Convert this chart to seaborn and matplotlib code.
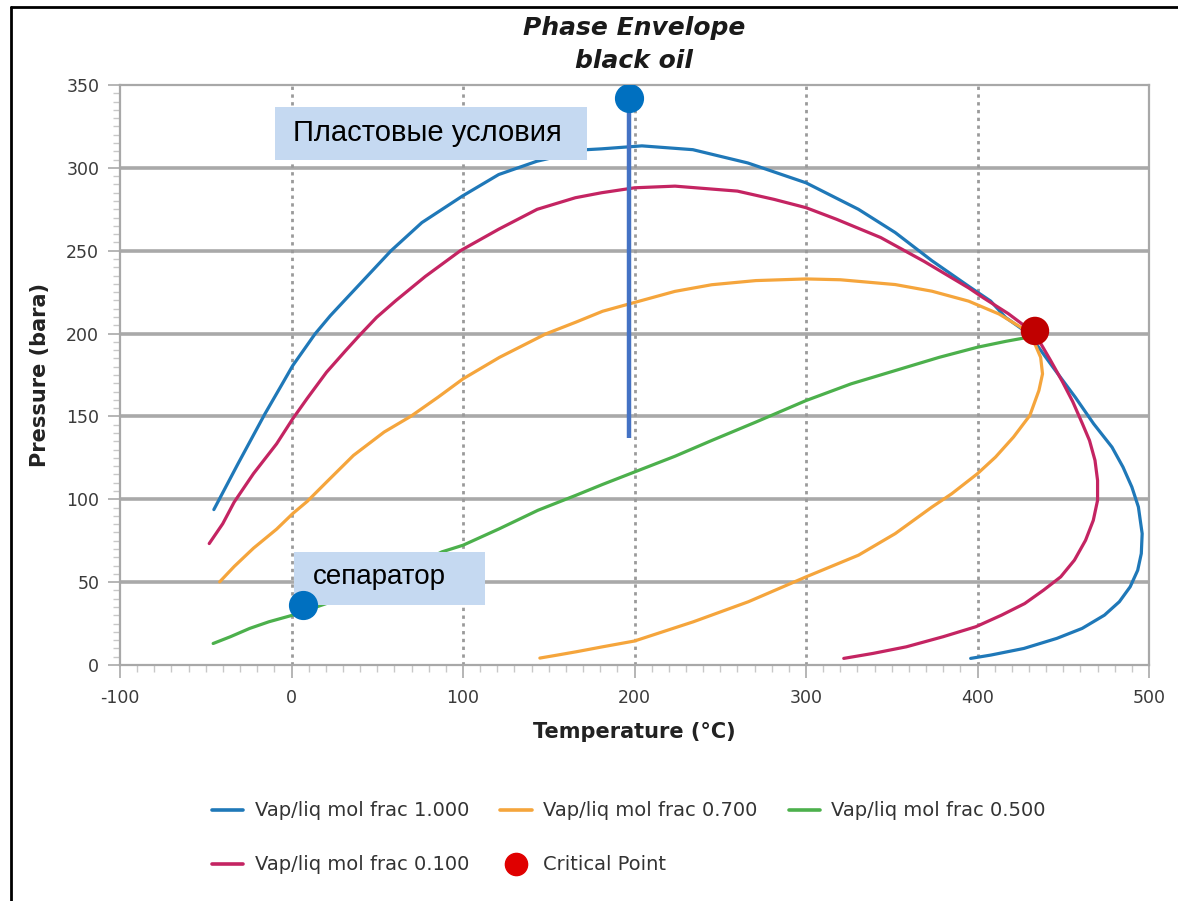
import matplotlib
matplotlib.use("Agg")
import numpy as np
import pandas as pd
import matplotlib.pyplot as plt
from matplotlib.lines import Line2D
from matplotlib.patches import Rectangle
from matplotlib.ticker import MultipleLocator
import seaborn as sns

# --- phase envelope data (temperature °C, pressure bara) ---
t_100 = [-45.3, -31.2, -15.5, -5.4, 0.7, 13.7, 22.6, 31.6, 58, 76, 99.6, 120.8, 143, 172,
         180.7, 204.3, 234, 266, 300, 330.6, 352, 373.4, 394.8, 407.7, 416.3, 430,
         444, 457, 467.7, 478.4, 484.8, 490, 493.8, 496, 495.5, 493.4, 489, 482.7,
         474, 461, 446.3, 427, 407.7, 396]
p_100 = [93.8, 121.5, 151.6, 169.7, 180.7, 199.8, 210.8, 220.8, 250, 267, 283, 296, 304, 311,
         311.5, 313.3, 311, 303, 291, 275, 261, 244, 228.6, 219.6, 209.8, 199.8,
         179.7, 161.6, 145.6, 131.5, 119.5, 107.4, 95.4, 79.3, 67.3, 57.2, 47.2, 38.2,
         30.1, 22.1, 16.1, 10, 6, 4]

t_070 = [-41.9, -33.4, -22.2, -8.7, 0.7, 9.2, 20.4, 36.1, 54, 69.7, 85.4, 100, 121.3,
         148.2, 166, 181.4, 200, 223.6, 245, 270.7, 300, 320, 352, 373.4, 394.8,
         412.6, 425.3, 432.6, 436.8, 437.9, 435.8, 430.5, 421, 410.5, 400, 385, 373.5,
         352, 330.6, 300, 266.4, 234.3, 200, 181.4, 166, 155, 144.8]
p_070 = [50.2, 59.5, 70.5, 82, 91.4, 98.8, 110.4, 126.5, 140.6, 150.2, 161.6, 172.7, 185.7,
         199.8, 207, 213.5, 218.8, 225.5, 229.5, 232, 233, 232.5, 229.6, 225.6, 219.6,
         211.8, 203.8, 195.8, 185.7, 175.7, 165.7, 150.6, 137.6, 125.5, 115.5, 103.4, 95.4,
         79.3, 66.3, 53.2, 38.2, 26.1, 14.5, 11, 8, 6, 4.2]

t_050 = [-45.7, -35.6, -24.4, -13.2, 0.7, 20, 45, 70, 87.7, 100, 121.3, 143.7, 166, 181.4,
         200, 223.6, 245, 270.7, 300, 326.3, 352, 377.7, 400, 416.8, 427.4]
p_050 = [13, 17.1, 22.1, 26.1, 30.1, 37, 48, 59, 68.3, 72.3, 82.3, 93.4, 102.5, 109,
         116.5, 126, 135.5, 146.6, 159.6, 169.7, 177.7, 185.7, 191.8, 195.4, 197.4]

t_010 = [-48, -40.1, -33.4, -22.2, -8.7, 0.7, 9.2, 20.4, 31.6, 39.5, 49.6, 60.8, 78, 98.4,
         120.8, 143.2, 165.5, 180.7, 200, 223.6, 260, 281.4, 300, 317.8, 343.5, 369,
         394.8, 403.4, 418, 433.5, 442.5, 449.5, 455.5, 461, 465.3, 468.5, 470, 470, 467.5,
         463, 456.5, 448.5, 438.5, 427.5, 414, 399, 380, 358.5, 339, 322]
p_010 = [73.3, 85.3, 98.4, 115.5, 133.5, 148.6, 161, 176.7, 189.8, 198.8, 209.8, 219.9,
         234.5, 250, 263, 275, 282, 285, 288, 289, 286, 281, 276, 269, 258, 243.5,
         227.6, 221.6, 212, 200, 184, 171, 159, 146, 135.5, 123.5, 111.4, 99.4, 87.3,
         75.3, 63.3, 53.2, 45.2, 37.1, 30.1, 23.1, 17.1, 11, 7, 4]

series_names = ["Vap/liq mol frac 1.000", "Vap/liq mol frac 0.700",
                "Vap/liq mol frac 0.500", "Vap/liq mol frac 0.100"]
series_colors = ["#1f78b8", "#f5a53c", "#4cb04c", "#c42462"]

critical_t = [433.5]
critical_p = [201.6]

# reservoir conditions marker and pressure range, separator marker
reservoir_t = 196.5
reservoir_p_top = 342
reservoir_p_bottom = 137
separator_t = 6.5
separator_p = 36

x_ticks = [-100, 0, 100, 200, 300, 400, 500]
y_ticks = [0, 50, 100, 150, 200, 250, 300, 350]

frames = []
for name, t, p in zip(series_names, [t_100, t_070, t_050, t_010],
                      [p_100, p_070, p_050, p_010]):
    frames.append(pd.DataFrame({"T": t, "P": p, "series": name}))
env = pd.concat(frames, ignore_index=True)
crit = pd.DataFrame({"T": critical_t, "P": critical_p})

sns.set_theme(style="white")
plt.rcParams['font.family'] = ['DejaVu Sans']
plt.rcParams['axes.unicode_minus'] = False

fig = plt.figure(figsize=(11.78, 9.01), dpi=100)
ax = fig.add_axes([0.1019, 0.2619, 0.8735, 0.6437])

sns.lineplot(data=env, x="T", y="P", hue="series", hue_order=series_names,
             palette=series_colors, sort=False, estimator=None, units="series",
             linewidth=2.3, ax=ax, legend=False, zorder=3)
sns.scatterplot(data=crit, x="T", y="P", color="#c00000", s=420, edgecolor="none",
                ax=ax, zorder=6, legend=False)

ax.set_xlim(-100, 500)
ax.set_ylim(0, 350)
ax.set_xticks(x_ticks)
ax.set_yticks(y_ticks)
ax.xaxis.set_minor_locator(MultipleLocator(10))
ax.yaxis.set_minor_locator(MultipleLocator(5))

ax.grid(False)
for yv in y_ticks[1:-1]:
    ax.axhline(yv, color="#a9a9a9", lw=2.6, zorder=1)
for xv in x_ticks[1:-1]:
    ax.axvline(xv, color="#9a9a9a", lw=2.0, ls=(0, (1.2, 1.6)), zorder=1)

for s in ax.spines.values():
    s.set_color("#a8a8a8")
    s.set_linewidth(1.6)

ax.tick_params(axis="both", which="both", bottom=True, left=True, top=False, right=False)
ax.tick_params(axis="both", which="major", direction="out", length=9, width=1.3,
               color="#b0b0b0", labelsize=12.5, labelcolor="#3a3a3a", pad=6)
ax.tick_params(axis="both", which="minor", direction="out", length=5, width=1.0,
               color="#c8c8c8")
ax.tick_params(axis="x", which="major", pad=8)

ax.set_xlabel("Temperature (°C)", fontsize=15, fontweight="bold", color="#222222",
              labelpad=11)
ax.set_ylabel("Pressure (bara)", fontsize=15, fontweight="bold", color="#222222",
              labelpad=12)

fig.text(0.5385, 1 - 35 / 901, "Phase Envelope", ha="center", va="baseline",
         fontsize=18, fontweight="bold", fontstyle="italic", color="#1a1a1a")
fig.text(0.5385, 1 - 68 / 901, "black oil", ha="center", va="baseline",
         fontsize=18, fontweight="bold", fontstyle="italic", color="#1a1a1a")

# reservoir conditions: vertical pressure range with marker
ax.plot([reservoir_t, reservoir_t], [reservoir_p_bottom, reservoir_p_top],
        color="#4472c4", lw=3.2, zorder=7, solid_capstyle="butt")
ax.plot([reservoir_t], [reservoir_p_top], "o", color="#0070c0", ms=20, zorder=8)

# label boxes
box_color = "#c5d9f1"
ax.add_patch(Rectangle((-9.8, 304.8), 182.2, 31.9, facecolor=box_color,
                       edgecolor="none", zorder=5))
ax.text(0.8, 321, "Пластовые условия", fontsize=21, va="center", ha="left",
        family=["Liberation Sans", "DejaVu Sans"], color="black", zorder=9)
ax.add_patch(Rectangle((1.35, 36.2), 111.35, 32.0, facecolor=box_color,
                       edgecolor="none", zorder=5))
ax.text(12.5, 53, "сепаратор", fontsize=20, va="center", ha="left",
        family=["Liberation Sans", "DejaVu Sans"], color="black", zorder=9)
ax.plot([separator_t], [separator_p], "o", color="#0070c0", ms=20, zorder=8,
        clip_on=False)

# legend: row 1 = 1.000, 0.700, 0.500; row 2 = 0.100, critical point
h = [Line2D([], [], color=c, lw=2.6) for c in series_colors]
hc = Line2D([], [], ls="none", marker="o", ms=16, color="#e00000")
handles = [h[0], h[3], h[1], hc, h[2]]
labels = [series_names[0], series_names[3], series_names[1], "Critical Point",
          series_names[2]]
fig.legend(handles, labels, ncol=3, loc="center", bbox_to_anchor=(0.534, 0.070),
           frameon=False, fontsize=14, labelspacing=1.8, columnspacing=1.6,
           handlelength=1.6, handletextpad=0.6, labelcolor="#333333")

# figure frame along the left and top edges
fig.add_artist(Line2D([0.0095, 0.0095], [0.0, 0.9925], color="black", lw=2.0,
                      transform=fig.transFigure))
fig.add_artist(Line2D([0.0095, 1.0], [0.9925, 0.9925], color="black", lw=2.0,
                      transform=fig.transFigure))

fig.savefig("out.png", dpi=100)
